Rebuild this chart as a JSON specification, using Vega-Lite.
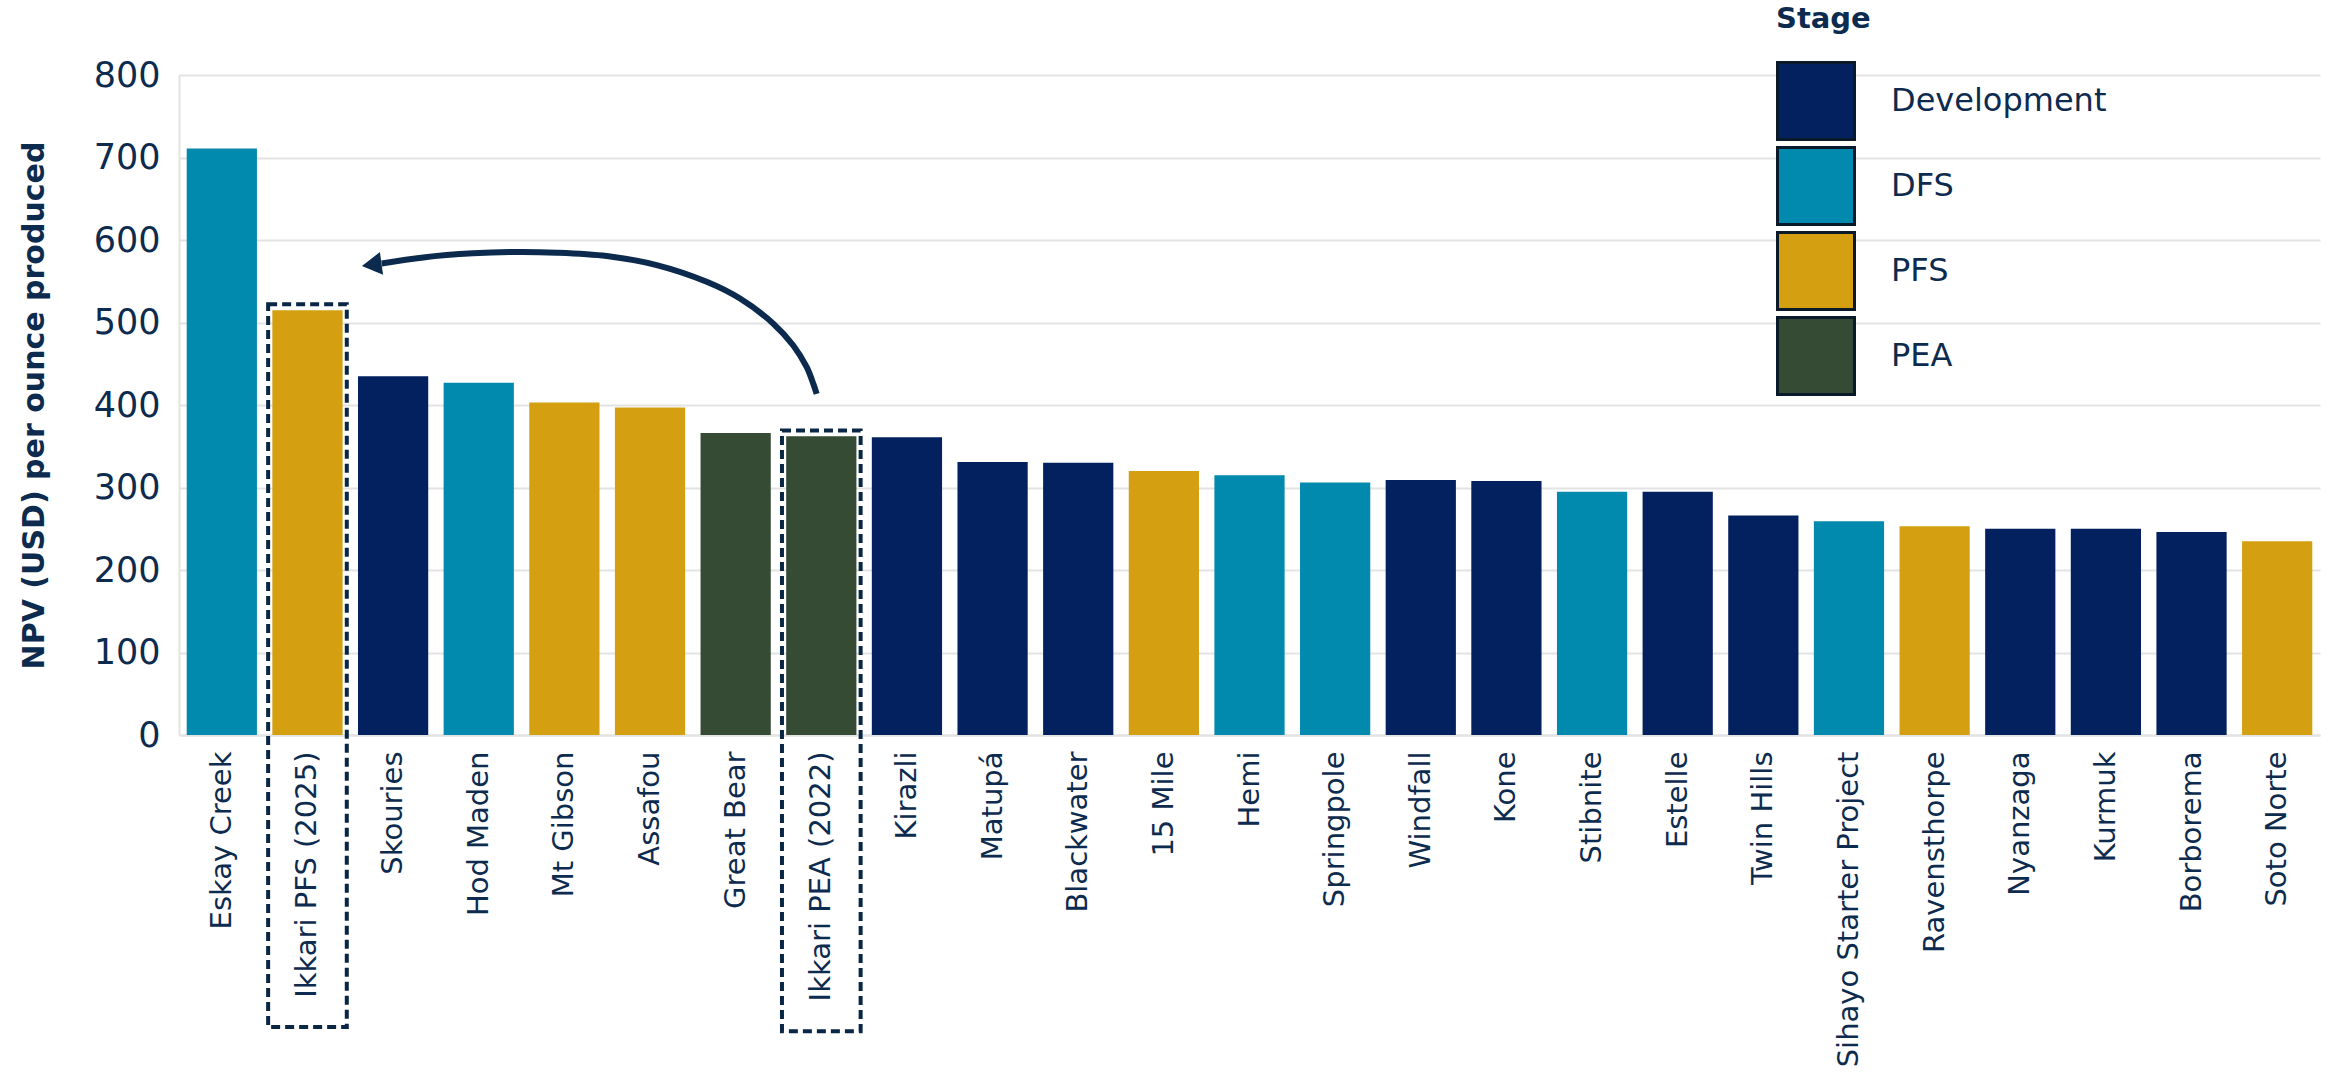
{
  "$schema": "https://vega.github.io/schema/vega-lite/v6.json",
  "width": 2141,
  "height": 660,
  "autosize": {"type": "none"},
  "padding": {"left": 179, "top": 75, "right": 15, "bottom": 337},
  "background": "white",
  "datasets": {
    "bars": [
      {"project": "Eskay Creek", "stage": "DFS", "npv": 711},
      {"project": "Ikkari PFS (2025)", "stage": "PFS", "npv": 515},
      {"project": "Skouries", "stage": "Development", "npv": 435},
      {"project": "Hod Maden", "stage": "DFS", "npv": 427},
      {"project": "Mt Gibson", "stage": "PFS", "npv": 403},
      {"project": "Assafou", "stage": "PFS", "npv": 397},
      {"project": "Great Bear", "stage": "PEA", "npv": 366},
      {"project": "Ikkari  PEA (2022)", "stage": "PEA", "npv": 362},
      {"project": "Kirazli", "stage": "Development", "npv": 361},
      {"project": "Matupá", "stage": "Development", "npv": 331},
      {"project": "Blackwater", "stage": "Development", "npv": 330},
      {"project": "15 Mile", "stage": "PFS", "npv": 320},
      {"project": "Hemi", "stage": "DFS", "npv": 315},
      {"project": "Springpole", "stage": "DFS", "npv": 306},
      {"project": "Windfall", "stage": "Development", "npv": 309},
      {"project": "Kone", "stage": "Development", "npv": 308},
      {"project": "Stibnite", "stage": "DFS", "npv": 295},
      {"project": "Estelle", "stage": "Development", "npv": 295},
      {"project": "Twin Hills", "stage": "Development", "npv": 266},
      {"project": "Sihayo Starter Project", "stage": "DFS", "npv": 259},
      {"project": "Ravensthorpe", "stage": "PFS", "npv": 253},
      {"project": "Nyanzaga", "stage": "Development", "npv": 250},
      {"project": "Kurmuk", "stage": "Development", "npv": 250},
      {"project": "Borborema", "stage": "Development", "npv": 246},
      {"project": "Soto Norte", "stage": "PFS", "npv": 235}
    ],
    "boxes": [
      {"project": "Ikkari PFS (2025)", "top": 522, "bottom": -354},
      {"project": "Ikkari  PEA (2022)", "top": 369, "bottom": -359}
    ],
    "arrow": [
      {"i": 2.367, "v": 571.6},
      {"i": 2.853, "v": 578.9},
      {"i": 3.436, "v": 583.8},
      {"i": 3.904, "v": 585.4},
      {"i": 4.41, "v": 584.6},
      {"i": 4.994, "v": 580.5},
      {"i": 5.578, "v": 569.6},
      {"i": 6.162, "v": 549.3},
      {"i": 6.551, "v": 529.0},
      {"i": 6.94, "v": 498.6},
      {"i": 7.173, "v": 472.2},
      {"i": 7.33, "v": 445.8},
      {"i": 7.407, "v": 425.6},
      {"i": 7.446, "v": 413.4}
    ],
    "head": [
      {"i": 2.25, "v": 570}
    ]
  },
  "layer": [
    {
      "layer": [
        {
          "data": {"name": "bars"},
          "mark": {"type": "bar"},
          "encoding": {
            "x": {
              "field": "project", "type": "nominal", "sort": null, "title": null,
              "scale": {"paddingInner": 0.18, "paddingOuter": 0.09}
            },
            "y": {
              "field": "npv", "type": "quantitative",
              "title": "NPV (USD) per ounce produced",
              "scale": {"domain": [0, 800], "nice": false}
            },
            "color": {
              "field": "stage", "type": "nominal",
              "scale": {
                "domain": ["Development", "DFS", "PFS", "PEA"],
                "range": ["#02215E", "#0289AE", "#D4A012", "#354B33"]
              },
              "legend": {"title": "Stage"}
            }
          }
        },
        {
          "data": {"name": "boxes"},
          "mark": {
            "type": "bar",
            "width": {"band": 1.12},
            "fill": "white",
            "fillOpacity": 0,
            "stroke": "#0A2645",
            "strokeWidth": 4,
            "strokeDash": [9, 5]
          },
          "encoding": {
            "x": {"field": "project", "type": "nominal", "sort": null, "title": null},
            "y": {
              "field": "top", "type": "quantitative",
              "title": "NPV (USD) per ounce produced",
              "scale": {"domain": [0, 800], "nice": false}
            },
            "y2": {"field": "bottom"}
          }
        }
      ]
    },
    {
      "layer": [
        {
          "data": {"name": "arrow"},
          "mark": {"type": "line", "interpolate": "catmull-rom", "color": "#0B2A4E", "strokeWidth": 6},
          "encoding": {
            "x": {"field": "i", "type": "quantitative", "scale": {"domain": [0, 25], "nice": false, "zero": false}, "axis": null},
            "y": {
              "field": "v", "type": "quantitative",
              "title": "NPV (USD) per ounce produced",
              "scale": {"domain": [0, 800], "nice": false}
            }
          }
        },
        {
          "data": {"name": "head"},
          "mark": {"type": "point", "shape": "triangle-left", "filled": true, "size": 520, "angle": 352, "color": "#0B2A4E", "opacity": 1},
          "encoding": {
            "x": {"field": "i", "type": "quantitative", "scale": {"domain": [0, 25], "nice": false, "zero": false}, "axis": null},
            "y": {
              "field": "v", "type": "quantitative",
              "title": "NPV (USD) per ounce produced",
              "scale": {"domain": [0, 800], "nice": false}
            }
          }
        }
      ]
    }
  ],
  "resolve": {"scale": {"x": "independent"}, "axis": {"x": "independent"}},
  "config": {
    "view": {"stroke": null},
    "font": "DejaVu Sans",
    "axisX": {
      "domainColor": "#E3E3E3",
      "domainWidth": 2,
      "grid": false,
      "ticks": false,
      "tickSize": 0,
      "labelAngle": -90,
      "labelFont": "DejaVu Sans",
      "labelFontSize": 29,
      "labelColor": "#0D2B4E",
      "labelPadding": 16,
      "labelLimit": 600
    },
    "axisY": {
      "domainColor": "#E3E3E3",
      "domainWidth": 2,
      "gridColor": "#E3E3E3",
      "gridWidth": 2,
      "ticks": false,
      "tickSize": 0,
      "tickCount": 8,
      "labelFont": "DejaVu Sans",
      "labelFontSize": 35,
      "labelColor": "#0D2B4E",
      "labelPadding": 19,
      "titleFont": "DejaVu Sans",
      "titleFontSize": 30,
      "titleFontWeight": "bold",
      "titleColor": "#0D2B4E",
      "titlePadding": 44
    },
    "legend": {
      "orient": "none",
      "legendX": 1597,
      "legendY": -70,
      "direction": "vertical",
      "padding": 0,
      "symbolType": "square",
      "symbolSize": 5929,
      "symbolStrokeColor": "#0B1A2B",
      "symbolStrokeWidth": 3,
      "symbolOpacity": 1,
      "labelFont": "DejaVu Sans",
      "labelFontSize": 32,
      "labelColor": "#0D2B4E",
      "labelOffset": 35,
      "labelLimit": 400,
      "rowPadding": -6,
      "titleFont": "DejaVu Sans",
      "titleFontSize": 29,
      "titleFontWeight": "bold",
      "titleColor": "#0D2B4E",
      "titlePadding": 27
    }
  }
}
